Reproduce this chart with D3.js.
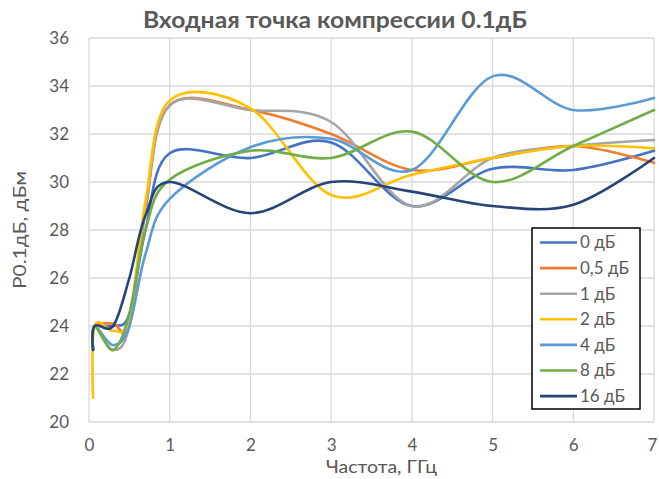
<!DOCTYPE html>
<html>
<head>
<meta charset="utf-8">
<script src="https://cdn.jsdelivr.net/npm/d3@7/dist/d3.min.js"></script>
<style>
  html, body { margin: 0; padding: 0; background: #fff; }
  svg { display: block; }
  text { font-family: Lato, "Open Sans", sans-serif; fill: #595959; }
</style>
</head>
<body>
<svg id="chart" width="659" height="479"></svg>
<script>
// Frequency points, GHz
const freqs = [0.05, 0.07, 0.3, 0.5, 0.7, 1, 2, 3, 4, 5, 6, 7];

// P0.1dB, dBm, for each attenuator setting
const att0   = [23, 24, 24.0, 24.5, 28.0, 31.2, 31.0, 31.65, 29.0, 30.55, 30.5, 31.3];
const att05  = [23, 24, 24.1, 24.0, 28.8, 33.2, 33.0, 32.0, 30.5, 31.0, 31.5, 30.8];
const att1   = [23, 24, 23.0, 24.0, 28.9, 33.2, 33.0, 32.5, 29.0, 31.0, 31.5, 31.75];
const att2   = [21, 24, 23.8, 24.3, 29.2, 33.4, 33.07, 29.46, 30.3, 31.0, 31.5, 31.4];
const att4   = [23, 24, 23.2, 24.0, 27.0, 29.3, 31.45, 31.8, 30.5, 34.4, 33.0, 33.5];
const att8   = [23, 24, 23.0, 24.5, 28.0, 30.1, 31.3, 31.0, 32.1, 30.0, 31.5, 33.0];
const att16  = [23, 24, 24.0, 26.0, 28.6, 30.0, 28.7, 30.0, 29.6, 29.0, 29.05, 31.0];

const seriesNames  = ["0 дБ", "0,5 дБ", "1 дБ", "2 дБ", "4 дБ", "8 дБ", "16 дБ"];
const seriesValues = [att0, att05, att1, att2, att4, att8, att16];
const seriesColors = ["#4472C4", "#ED7D31", "#A5A5A5", "#FFC000", "#5B9BD5", "#70AD47", "#264478"];

const xTicks = [0, 1, 2, 3, 4, 5, 6, 7];
const yTicks = [20, 22, 24, 26, 28, 30, 32, 34, 36];

const titleText = "Входная точка компрессии 0.1дБ";
const xTitle = "Частота, ГГц";
const yTitle = "P0.1дБ, дБм";

const svg = d3.select("#chart");
const plot = { left: 89, right: 654, top: 38, bottom: 422 };

const x = d3.scaleLinear().domain([0, 7]).range([plot.left, plot.right]);
const y = d3.scaleLinear().domain([20, 36]).range([plot.bottom, plot.top]);

// Gridlines
const grid = svg.append("g");
grid.selectAll("line.h").data(yTicks).join("line")
  .attr("x1", plot.left).attr("x2", plot.right)
  .attr("y1", d => y(d)).attr("y2", d => y(d))
  .attr("stroke", "#d9d9d9").attr("stroke-width", 1.3);
grid.selectAll("line.v").data(xTicks).join("line")
  .attr("y1", plot.top).attr("y2", plot.bottom)
  .attr("x1", d => x(d)).attr("x2", d => x(d))
  .attr("stroke", "#d9d9d9").attr("stroke-width", 1.3);

// Axes (labels only; the grid draws the frame)
const yAxis = d3.axisLeft(y).tickValues(yTicks).tickFormat(d3.format("d"))
  .tickSize(0).tickPadding(20);
svg.append("g").attr("transform", `translate(${plot.left},0)`).call(yAxis)
  .call(g => g.select(".domain").remove())
  .selectAll("text").style("font-size", "17px").attr("fill", "#595959");

const xAxis = d3.axisBottom(x).tickValues(xTicks).tickFormat(d3.format("d"))
  .tickSize(0).tickPadding(17);
svg.append("g").attr("transform", `translate(0,${plot.bottom})`).call(xAxis)
  .call(g => g.select(".domain").remove())
  .selectAll("text").style("font-size", "17px").attr("fill", "#595959")
  .attr("dx", d => d === 7 ? -2 : 0);

// Series lines, smoothed
const line = d3.line()
  .x((d, i) => x(freqs[i]))
  .y(d => y(d))
  .curve(d3.curveCatmullRom.alpha(0));

svg.append("g").selectAll("path").data(seriesValues).join("path")
  .attr("d", d => line(d))
  .attr("fill", "none")
  .attr("stroke", (d, i) => seriesColors[i])
  .attr("stroke-width", 2.6)
  .attr("stroke-linejoin", "round")
  .attr("stroke-linecap", "round");

// Titles
svg.append("text").attr("x", 335).attr("y", 28)
  .attr("text-anchor", "middle")
  .style("font-size", "22px").style("font-weight", "bold")
  .attr("textLength", 384).attr("lengthAdjust", "spacingAndGlyphs")
  .text(titleText);

svg.append("text").attr("x", (plot.left + plot.right) / 2 + 10).attr("y", 473)
  .attr("text-anchor", "middle").style("font-size", "18px")
  .attr("textLength", 111).attr("lengthAdjust", "spacingAndGlyphs")
  .text(xTitle);

svg.append("text")
  .attr("transform", `translate(26,${(plot.top + plot.bottom) / 2}) rotate(-90)`)
  .attr("text-anchor", "middle").style("font-size", "18px")
  .attr("textLength", 118).attr("lengthAdjust", "spacingAndGlyphs")
  .text(yTitle);

// Legend
const legend = svg.append("g").attr("transform", "translate(532,228)");
legend.append("rect").attr("width", 108).attr("height", 181)
  .attr("fill", "#fff").attr("stroke", "#000").attr("stroke-width", 1.5);
const item = legend.selectAll("g.item").data(seriesNames).join("g")
  .attr("transform", (d, i) => `translate(0,${14.5 + i * 25.6})`);
item.append("line").attr("x1", 8).attr("x2", 45)
  .attr("stroke", (d, i) => seriesColors[i]).attr("stroke-width", 2.6);
item.append("text").attr("x", 48).attr("dy", "0.35em")
  .style("font-size", "17px").text(d => d);
</script>
</body>
</html>
